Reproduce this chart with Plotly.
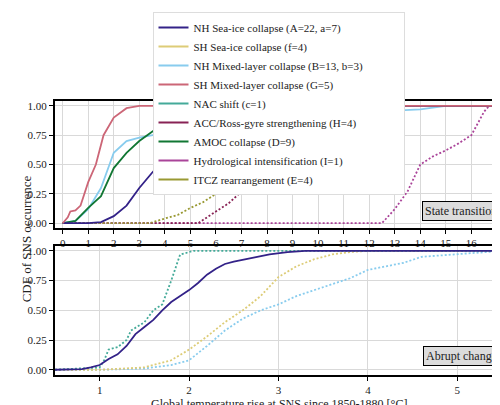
import plotly.graph_objects as go

# ---- legend / colours ----
names = {
    'A': 'NH Sea-ice collapse (A=22, a=7)',
    'B': 'NH Mixed-layer collapse (B=13, b=3)',
    'C': 'NAC shift (c=1)',
    'D': 'AMOC collapse (D=9)',
    'E': 'ITCZ rearrangement (E=4)',
    'F': 'SH Sea-ice collapse (f=4)',
    'G': 'SH Mixed-layer collapse (G=5)',
    'H': 'ACC/Ross-gyre strengthening (H=4)',
    'I': 'Hydrological intensification (I=1)',
}
colors = {'A': '#332288', 'B': '#88CCEE', 'C': '#44AA99', 'D': '#117733', 'E': '#999933',
          'F': '#DDCC77', 'G': '#CC6677', 'H': '#882255', 'I': '#AA4499'}

# ---- state transition (top) ----
top_A_x = [0, 1, 1.5, 2, 2.5, 3, 3.5, 4, 4.5, 5, 5.5, 6, 7, 8, 9, 10, 17.2]
top_A_y = [0, 0, 0.01, 0.06, 0.15, 0.3, 0.43, 0.55, 0.68, 0.8, 0.9, 0.94, 0.97, 0.98, 0.99, 1, 1]
top_B_x = [0, 0.5, 1, 1.5, 2, 2.5, 3, 3.5, 4, 5, 6, 7, 8, 10, 12, 13, 14, 15, 17.2]
top_B_y = [0, 0.02, 0.12, 0.3, 0.6, 0.7, 0.73, 0.75, 0.77, 0.8, 0.86, 0.9, 0.94, 0.94, 0.95, 0.96, 0.97, 1, 1]
top_D_x = [0, 0.5, 1, 1.5, 2, 2.5, 3, 3.5, 4, 4.5, 5, 6, 7, 8, 9, 17.2]
top_D_y = [0, 0.02, 0.13, 0.23, 0.47, 0.6, 0.7, 0.78, 0.85, 0.88, 0.9, 0.94, 0.97, 0.99, 1, 1]
top_E_x = [0, 3.4, 4, 4.5, 5, 5.5, 6, 6.5, 7, 7.5, 8, 8.5, 8.8, 17.2]
top_E_y = [0, 0, 0.04, 0.07, 0.13, 0.18, 0.25, 0.4, 0.6, 0.75, 0.85, 0.95, 1, 1]
top_G_x = [0, 0.2, 0.3, 0.5, 0.7, 1, 1.3, 1.6, 2, 2.5, 3, 17.2]
top_G_y = [0, 0.05, 0.1, 0.11, 0.15, 0.35, 0.5, 0.75, 0.9, 0.98, 1, 1]
top_H_x = [0, 5.3, 6, 6.5, 7, 7.5, 8, 8.5, 9, 9.5, 10, 10.5, 11, 11.5, 12, 12.8, 13.1, 17.2]
top_H_y = [0, 0, 0.1, 0.17, 0.27, 0.3, 0.36, 0.45, 0.55, 0.65, 0.77, 0.8, 0.85, 0.9, 0.92, 0.93, 1, 1]
top_I_x = [0, 12.5, 13, 13.5, 14, 14.5, 15, 15.5, 16, 16.5, 16.7, 17.2]
top_I_y = [0, 0, 0.12, 0.27, 0.5, 0.57, 0.62, 0.68, 0.75, 0.95, 1, 1]

# ---- abrupt change (bottom) ----
bot_A_x = [0.5, 0.8, 0.9, 1, 1.1, 1.2, 1.3, 1.4, 1.5, 1.6, 1.7, 1.8, 1.9, 2, 2.1, 2.2, 2.3, 2.4, 2.5, 2.7, 2.9, 3.1, 3.3, 5.5]
bot_A_y = [0, 0.005, 0.02, 0.04, 0.09, 0.13, 0.2, 0.3, 0.36, 0.42, 0.5, 0.57, 0.62, 0.67, 0.73, 0.8, 0.85, 0.89, 0.91, 0.94, 0.97, 0.99, 1, 1]
bot_C_x = [0.5, 1, 1.05, 1.1, 1.2, 1.3, 1.35, 1.5, 1.6, 1.7, 1.8, 1.9, 2, 2.05, 5.5]
bot_C_y = [0, 0.02, 0.08, 0.17, 0.19, 0.25, 0.33, 0.4, 0.5, 0.55, 0.75, 0.97, 0.99, 1, 1]
bot_F_x = [0.5, 1, 1.5, 1.8, 2, 2.2, 2.4, 2.6, 2.8, 3, 3.2, 3.4, 3.6, 3.8, 4, 5.5]
bot_F_y = [0, 0, 0.02, 0.08, 0.17, 0.28, 0.4, 0.5, 0.62, 0.78, 0.87, 0.93, 0.97, 0.99, 1, 1]
bot_B_x = [0.5, 1, 1.5, 1.8, 2, 2.2, 2.4, 2.6, 2.8, 3, 3.2, 3.4, 3.6, 3.8, 4, 4.2, 4.4, 4.6, 5, 5.5]
bot_B_y = [0, 0, 0.01, 0.04, 0.08, 0.2, 0.33, 0.43, 0.5, 0.55, 0.62, 0.67, 0.72, 0.77, 0.84, 0.87, 0.9, 0.95, 0.97, 1]

font = 'Liberation Serif'
fig = go.Figure()

# legend entries, row-wise order to mimic two columns
for k in ['A', 'F', 'B', 'G', 'C', 'H', 'D', 'I', 'E']:
    fig.add_trace(go.Scatter(x=[None], y=[None], mode='lines', name=names[k],
                             line=dict(color=colors[k], width=2)))

def curve(x, y, k, dash, ax):
    fig.add_trace(go.Scatter(x=x, y=y, mode='lines', showlegend=False,
                             line=dict(color=colors[k], width=1.8, dash=dash),
                             xaxis='x' + ax, yaxis='y' + ax))

dot = '2px,2px'
curve(top_I_x, top_I_y, 'I', dot, '')
curve(top_H_x, top_H_y, 'H', dot, '')
curve(top_E_x, top_E_y, 'E', dot, '')
curve(top_B_x, top_B_y, 'B', 'solid', '')
curve(top_D_x, top_D_y, 'D', 'solid', '')
curve(top_A_x, top_A_y, 'A', 'solid', '')
curve(top_G_x, top_G_y, 'G', 'solid', '')

curve(bot_B_x, bot_B_y, 'B', dot, '2')
curve(bot_F_x, bot_F_y, 'F', dot, '2')
curve(bot_C_x, bot_C_y, 'C', dot, '2')
curve(bot_A_x, bot_A_y, 'A', 'solid', '2')

ax_common = dict(showline=True, linecolor='black', linewidth=2, mirror=True,
                 showgrid=True, gridcolor='#d9d9d9', ticks='outside', ticklen=4,
                 tickcolor='black', zeroline=False, tickfont=dict(size=11))
yvals = [0, 0.25, 0.5, 0.75, 1.0]
ylabs = ['0.00', '0.25', '0.50', '0.75', '1.00']

fig.update_layout(
    width=500, height=405, plot_bgcolor='white', paper_bgcolor='white',
    margin=dict(l=47, r=6, t=0, b=0, autoexpand=False),
    font=dict(family=font, size=12, color='#222'),
    xaxis=dict(ax_common, domain=[0, 1], range=[-0.3, 17.2], dtick=1, anchor='y'),
    yaxis=dict(ax_common, domain=[0.457, 0.770], range=[-0.04, 1.04],
               tickvals=yvals, ticktext=ylabs, anchor='x'),
    xaxis2=dict(ax_common, domain=[0, 1], range=[0.5, 5.5], dtick=1, anchor='y2'),
    yaxis2=dict(ax_common, domain=[0.095, 0.412], range=[-0.04, 1.04],
                tickvals=yvals, ticktext=ylabs, anchor='x2'),
    legend=dict(orientation='h', x=0.5, xanchor='center', y=0.99, yanchor='top',
                entrywidth=205, font=dict(size=11), bordercolor='#dddddd',
                borderwidth=1, tracegroupgap=0),
    annotations=[
        dict(text='State transition', x=0.995, y=0.475, xref='paper', yref='paper',
             xanchor='right', yanchor='bottom', showarrow=False, bgcolor='#dcdcdc',
             bordercolor='black', borderwidth=1, borderpad=2, font=dict(size=12)),
        dict(text='Abrupt change', x=0.995, y=0.115, xref='paper', yref='paper',
             xanchor='right', yanchor='bottom', showarrow=False, bgcolor='#dcdcdc',
             bordercolor='black', borderwidth=1, borderpad=2, font=dict(size=12)),
        dict(text='CDF of SNS occurrence', x=-0.085, y=0.43, xref='paper', yref='paper',
             textangle=-90, showarrow=False, font=dict(size=13)),
        dict(text='Global temperature rise at SNS since 1850-1880 [°C]', x=0.5, y=0.0,
             xref='paper', yref='paper', yanchor='bottom', showarrow=False, font=dict(size=12)),
    ],
)

fig.write_html('out.html')
